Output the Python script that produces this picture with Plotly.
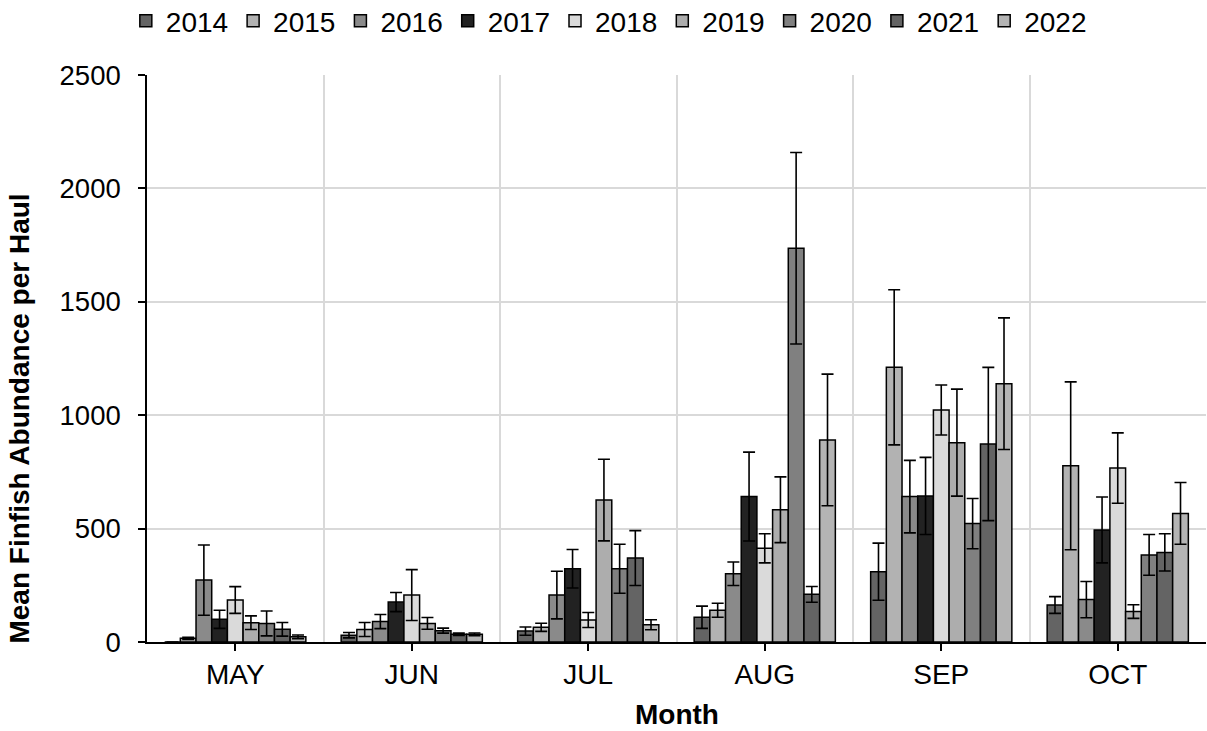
import plotly.graph_objects as go

months = ["MAY", "JUN", "JUL", "AUG", "SEP", "OCT"]
years = ["2014", "2015", "2016", "2017", "2018", "2019", "2020", "2021", "2022"]

# mean abundance per haul, per year (MAY..OCT)
y2014 = [0, 30, 48, 109, 310, 163]
y2015 = [16, 55, 65, 140, 1211, 777]
y2016 = [273, 90, 207, 301, 641, 187]
y2017 = [100, 176, 323, 641, 644, 494]
y2018 = [185, 207, 97, 413, 1023, 767]
y2019 = [85, 82, 626, 583, 879, 134]
y2020 = [82, 50, 323, 1736, 522, 384]
y2021 = [56, 34, 370, 210, 873, 395]
y2022 = [23, 34, 76, 891, 1139, 567]

# error (+/-) per year
e2014 = [0, 12, 18, 49, 126, 37]
e2015 = [5, 31, 18, 31, 342, 370]
e2016 = [155, 31, 105, 52, 160, 80]
e2017 = [40, 42, 85, 196, 170, 145]
e2018 = [59, 112, 33, 64, 110, 155]
e2019 = [30, 26, 180, 145, 236, 30]
e2020 = [55, 11, 108, 422, 111, 90]
e2021 = [30, 5, 121, 35, 338, 82]
e2022 = [8, 6, 22, 290, 290, 136]

values = [y2014, y2015, y2016, y2017, y2018, y2019, y2020, y2021, y2022]
errors = [e2014, e2015, e2016, e2017, e2018, e2019, e2020, e2021, e2022]
colors = ["#646464", "#b2b2b2", "#8a8a8a", "#222222", "#dadada",
          "#adadad", "#808080", "#646464", "#b4b4b4"]

FONT = "Liberation Sans, Arial, sans-serif"

fig = go.Figure()
for yr, vals, errs, col in zip(years, values, errors, colors):
    fig.add_trace(go.Bar(
        name=yr, x=months, y=vals,
        marker=dict(color=col, line=dict(color="#000000", width=1.5)),
        error_y=dict(type="data", array=errs, visible=True,
                     color="#000000", thickness=1.6, width=6),
    ))

# helper trace so the boundary grid axis renders
fig.add_trace(go.Scatter(x=months, y=[0] * len(months), xaxis="x2",
                         mode="markers", marker=dict(opacity=0),
                         showlegend=False, hoverinfo="skip"))

fig.update_layout(
    width=1207, height=731,
    margin=dict(l=147, r=1, t=75, b=89, autoexpand=False),
    paper_bgcolor="white", plot_bgcolor="white",
    barmode="group", bargap=0.2, bargroupgap=0,
    font=dict(family=FONT, size=27, color="#000000"),
    legend=dict(orientation="h", x=-0.02, xanchor="left", y=1.0952,
                yanchor="middle", font=dict(size=28), traceorder="normal",
                itemwidth=30, tracegroupgap=0, bgcolor="rgba(0,0,0,0)"),
    xaxis=dict(type="category", categoryorder="array", categoryarray=months,
               range=[-0.5, 5.5], showgrid=False, showline=True,
               linecolor="#000000", linewidth=1.5, ticks="outside",
               ticklen=7, tickwidth=1.5, tickcolor="#000000",
               tickfont=dict(size=28), automargin=False),
    xaxis2=dict(type="category", categoryorder="array", categoryarray=months,
                overlaying="x", range=[-0.5, 5.5], tickson="boundaries",
                showgrid=True, gridcolor="#d9d9d9", gridwidth=2,
                showticklabels=False, ticks="", showline=False, zeroline=False,
                automargin=False),
    yaxis=dict(range=[0, 2500], tickvals=[0, 500, 1000, 1500, 2000, 2500],
               showgrid=True, gridcolor="#d9d9d9", gridwidth=2,
               showline=True, linecolor="#000000", linewidth=1.5,
               ticks="outside", ticklen=7, tickwidth=1.5, tickcolor="#000000",
               zeroline=False, tickfont=dict(size=27.5), automargin=False,
               ticklabelstandoff=12),
    annotations=[
        dict(text="<b>Month</b>", xref="paper", yref="paper", x=0.5, y=-0.1287,
             xanchor="center", yanchor="middle", showarrow=False,
             font=dict(size=28)),
        dict(text="<b>Mean Finfish Abundance per Haul</b>", xref="paper",
             yref="paper", x=-0.1204, y=0.395, xanchor="center",
             yanchor="middle", textangle=-90, showarrow=False,
             font=dict(size=28)),
    ],
)

fig.write_html("out.html",
               config={"displayModeBar": False},
               post_script="document.body.style.margin='0';"
                           "document.body.style.overflow='hidden';")
